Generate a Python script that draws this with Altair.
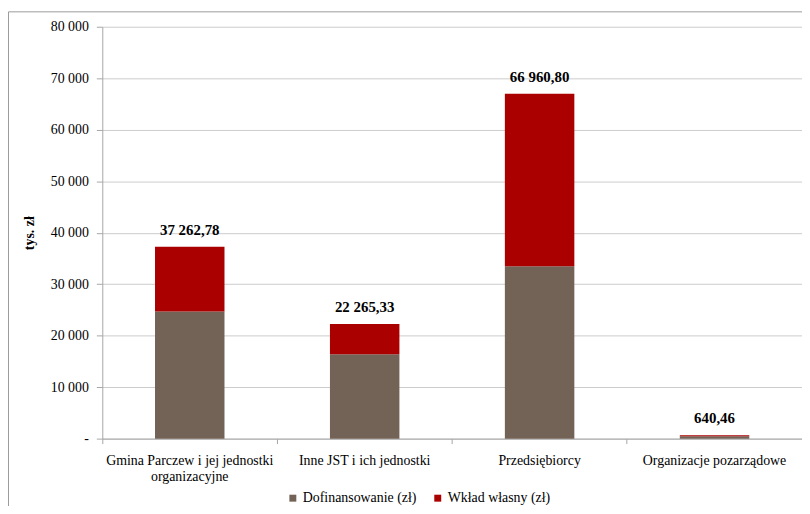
import altair as alt
import pandas as pd

categories = [
    "Gmina Parczew i jej jednostki organizacyjne",
    "Inne JST i ich jednostki",
    "Przedsiębiorcy",
    "Organizacje pozarządowe",
]
dofinansowanie = [24700, 16400, 33500, 440]
wklad_wlasny = [12562.78, 5865.33, 33460.80, 200.46]
totals = [37262.78, 22265.33, 66960.80, 640.46]
series = ["Dofinansowanie (zł)", "Wkład własny (zł)"]
colors = ["#736357", "#aa0000"]

rows = []
for c, d, w in zip(categories, dofinansowanie, wklad_wlasny):
    rows.append({"kat": c, "seria": series[0], "val": d, "ord": 0})
    rows.append({"kat": c, "seria": series[1], "val": w, "ord": 1})
df = pd.DataFrame(rows)
df_tot = pd.DataFrame({"kat": categories, "total": totals})

FONT = "Liberation Serif"

x_enc = alt.X(
    "kat:N",
    sort=categories,
    title=None,
    scale=alt.Scale(paddingInner=0, paddingOuter=0),
    axis=alt.Axis(
        labelAngle=0,
        labelFont=FONT,
        labelFontSize=14,
        labelColor="#000000",
        labelPadding=10,
        labelLimit=300,
        labelExpr="datum.label == 'Gmina Parczew i jej jednostki organizacyjne' ? ['Gmina Parczew i jej jednostki', 'organizacyjne'] : datum.label",
        bandPosition=0,
        tickSize=5,
        tickColor="#a6a6a6",
        domainColor="#a6a6a6",
        grid=False,
    ),
)

bars = alt.Chart(df).mark_bar(size=70).encode(
    x=x_enc,
    y=alt.Y(
        "val:Q",
        stack="zero",
        title="tys. zł",
        scale=alt.Scale(domain=[0, 80000], nice=False),
        axis=alt.Axis(
            values=list(range(0, 80001, 10000)),
            format=",d",
            labelExpr="datum.value == 0 ? '-' : datum.label",
            labelFont=FONT,
            labelFontSize=14,
            labelColor="#000000",
            labelPadding=8,
            tickSize=6,
            tickColor="#a6a6a6",
            domainColor="#a6a6a6",
            gridColor="#cccccc",
            titleFont=FONT,
            titleFontSize=14,
            titleFontWeight="bold",
            titleColor="#000000",
            titlePadding=14,
        ),
    ),
    color=alt.Color(
        "seria:N",
        scale=alt.Scale(domain=series, range=colors),
        legend=alt.Legend(
            title=None,
            orient="none",
            legendX=185,
            legendY=468,
            direction="horizontal",
            symbolType="square",
            symbolSize=49,
            symbolStrokeWidth=0,
            labelFont=FONT,
            labelFontSize=14,
            labelOffset=3,
            labelColor="#000000",
            columnPadding=14,
        ),
    ),
    order=alt.Order("ord:Q"),
)

labels = alt.Chart(df_tot).mark_text(
    font=FONT, fontSize=15, fontWeight="bold", baseline="bottom", dy=-9, color="#000000"
).encode(
    x=alt.X("kat:N", sort=categories),
    y=alt.Y("total:Q"),
    text=alt.Text("total:Q", format=",.2f"),
)

frame_left = alt.Chart(alt.Data(values=[{}])).mark_rule(color="#9a9a9a", strokeWidth=1).encode(
    x=alt.value(-94.5), y=alt.value(-15), y2=alt.value(600)
)
frame_top = alt.Chart(alt.Data(values=[{}])).mark_rule(color="#9a9a9a", strokeWidth=1).encode(
    x=alt.value(-94.5), x2=alt.value(800), y=alt.value(-15)
)

chart = alt.layer(bars, labels, frame_left, frame_top).properties(
    width=705,
    height=415,
    autosize=alt.AutoSizeParams(type="none"),
    padding={"left": 95, "top": 17, "right": 0, "bottom": 66},
).configure(
    font=FONT,
    locale={"number": {"decimal": ",", "thousands": " ", "grouping": [3], "currency": ["", " zł"]}},
).configure_view(stroke=None).configure_legend(
    labelFont=FONT
).configure_text(font=FONT).configure_axis(labelFont=FONT, titleFont=FONT)

chart.save("out.html", embed_options={"renderer": "svg", "actions": False})
